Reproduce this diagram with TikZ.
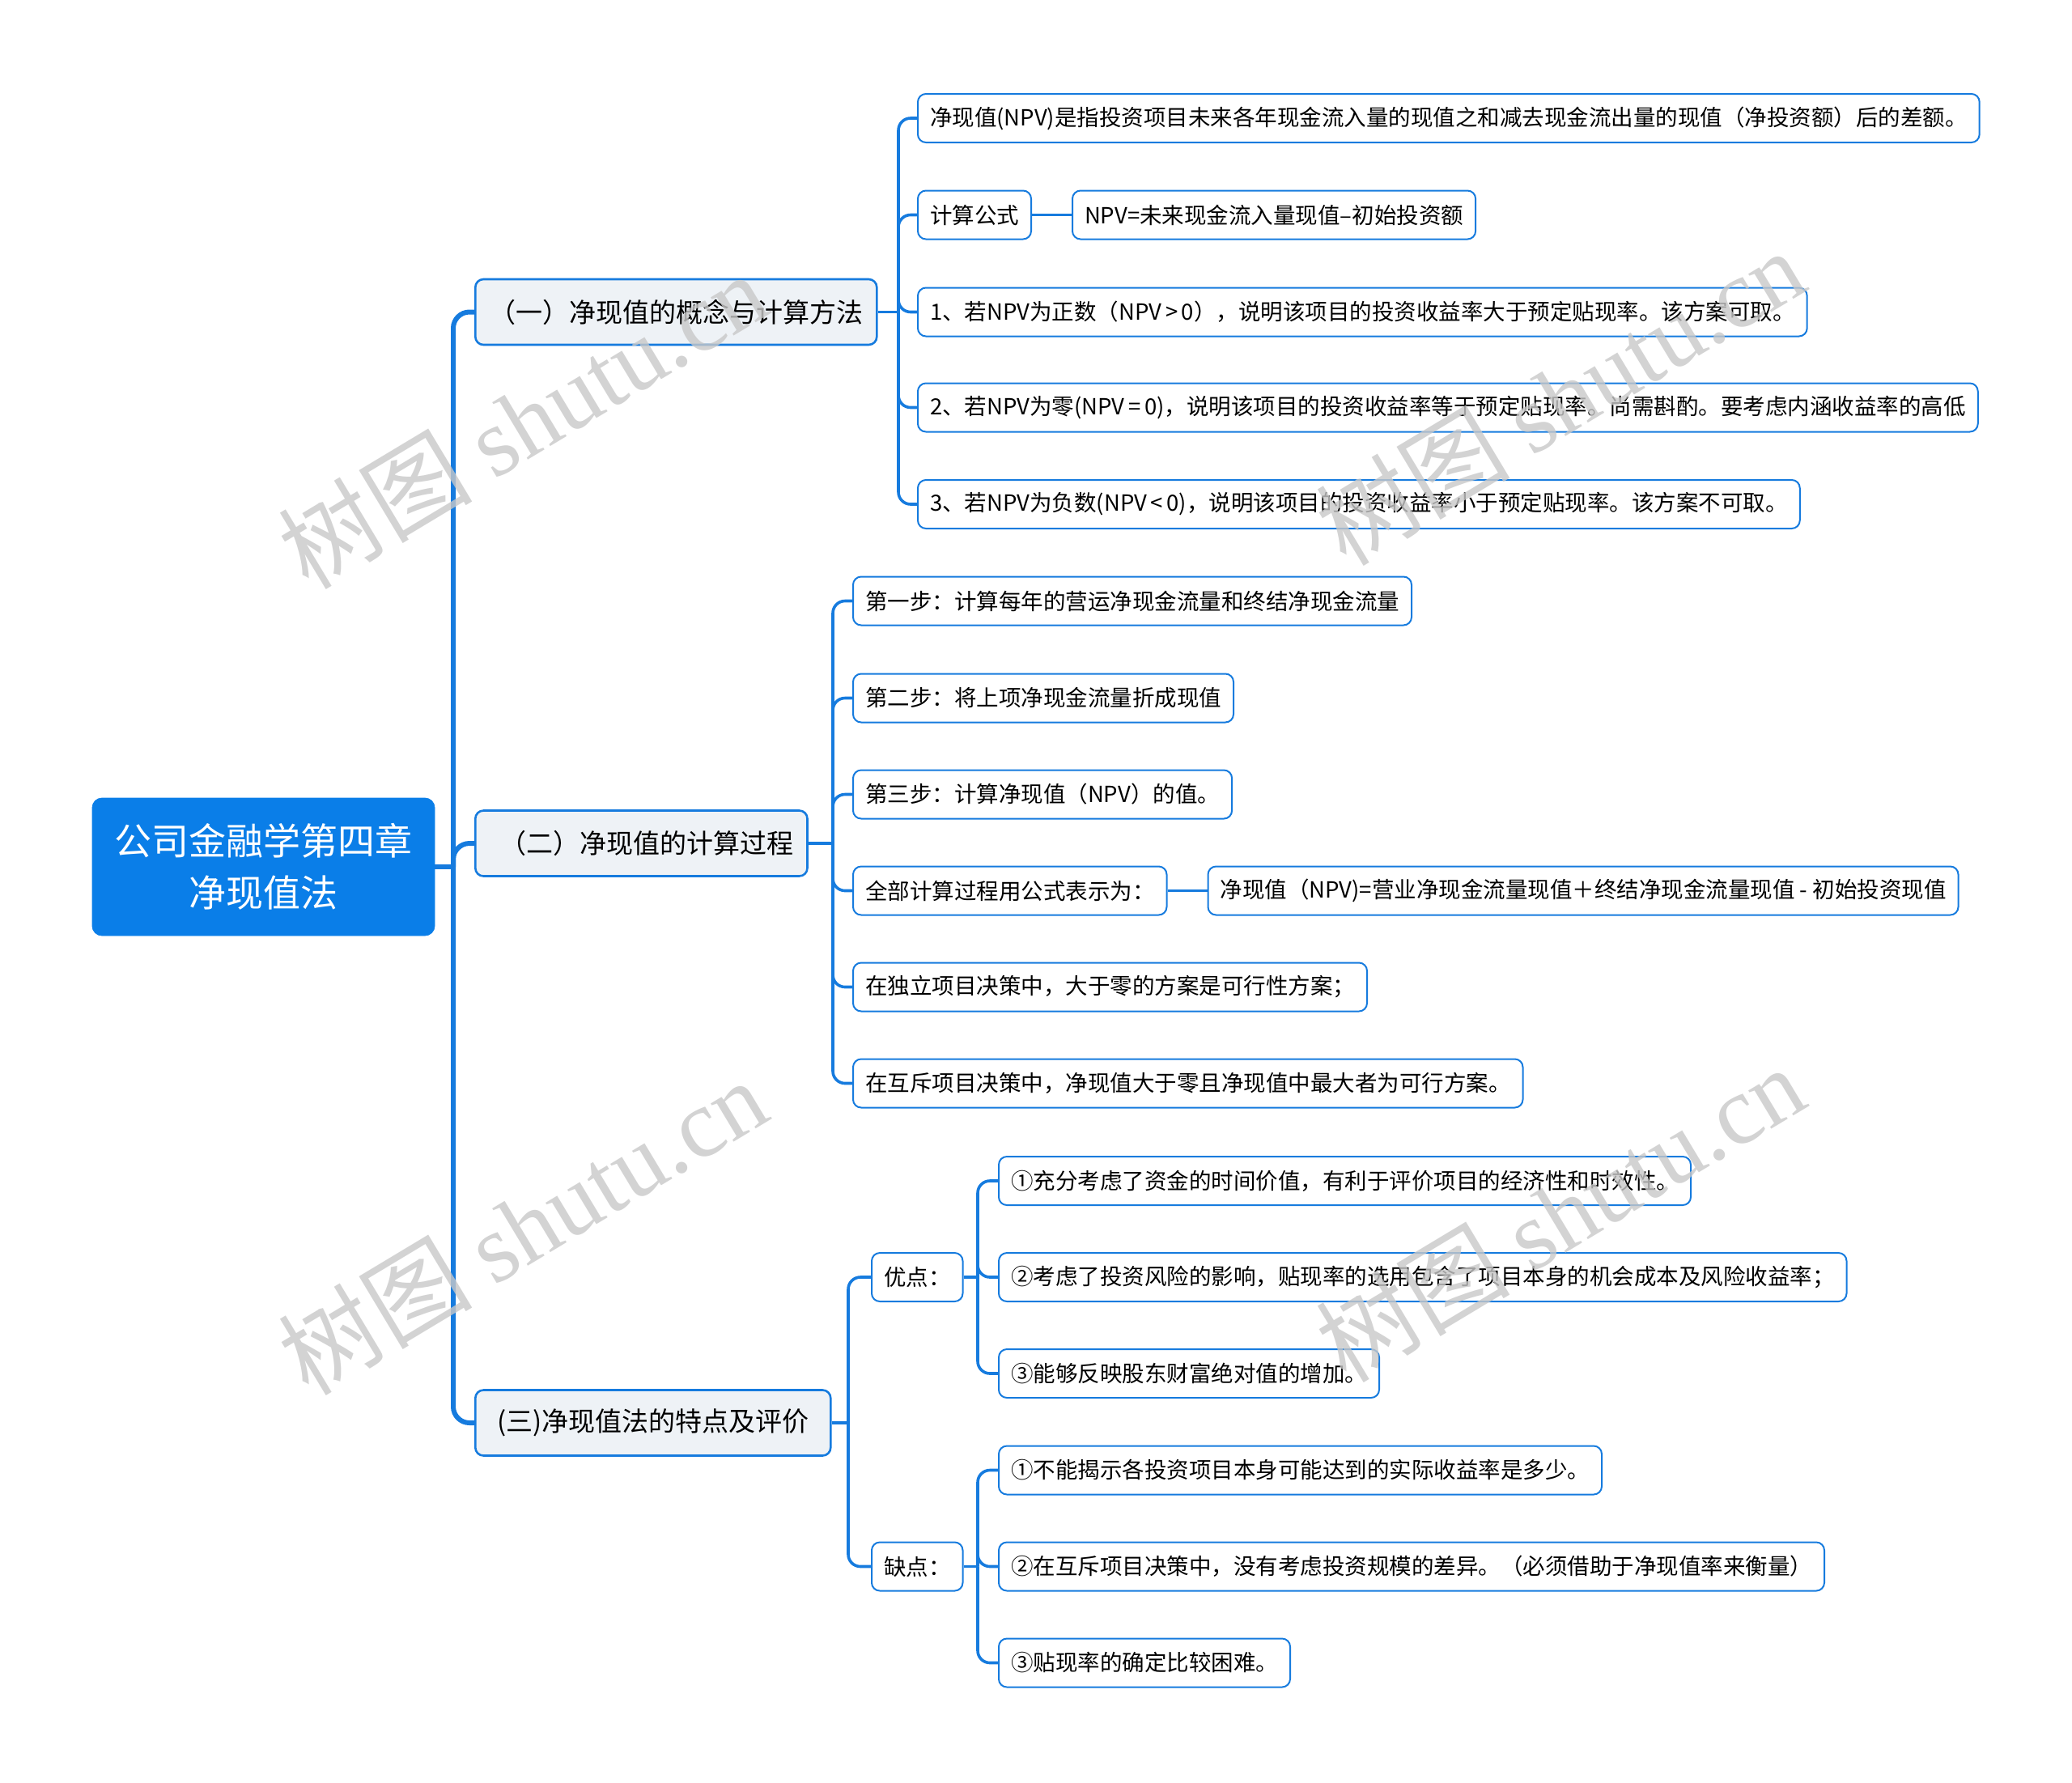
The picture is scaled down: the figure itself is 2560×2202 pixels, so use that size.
\documentclass[tikz,border=0pt]{standalone}
\usepackage{fontspec}
\setmainfont{Noto Sans CJK SC}
\newfontfamily\markfont{Liberation Serif}
\usetikzlibrary{positioning, calc}
\definecolor{mapblue}{RGB}{22,123,222}
\definecolor{rootblue}{RGB}{10,126,232}
\definecolor{topicbg}{RGB}{238,242,246}
\definecolor{markgray}{RGB}{200,200,200}
\tikzset{
  rootbox/.style={
    fill=rootblue,
    draw=rootblue,
    rounded corners=6pt,
    text=white,
    align=center,
    inner sep=4pt,
    minimum width=211.5pt,
    minimum height=85pt,
    font=\fontsize{23pt}{32pt}\selectfont
  },
  topicbox/.style={
    fill=topicbg,
    draw=mapblue,
    line width=1.3pt,
    rounded corners=5pt,
    anchor=west,
    inner xsep=8.5pt,
    minimum height=40.5pt,
    font=\fontsize{16.5pt}{20pt}\selectfont
  },
  leafbox/.style={
    fill=white,
    draw=mapblue,
    line width=1pt,
    rounded corners=5pt,
    anchor=west,
    inner xsep=7.5pt,
    minimum height=30pt,
    font=\fontsize{13.75pt}{16pt}\selectfont
  },
  trunk/.style={draw=mapblue, line width=3pt, rounded corners=10pt},
  stem/.style={draw=mapblue, line width=1.8pt, rounded corners=7.5pt},
  watermark/.style={text=markgray, text opacity=0.8, rotate=31,
    font=\fontsize{60pt}{60pt}\selectfont}
}

\begin{document}
\begin{tikzpicture}[x=0.5pt, y=-0.5pt]
\path[use as bounding box] (0,0) rectangle (2560,2202);

% root and topics
\node[rootbox] (root) at (325.5,1071) {公司金融学第四章\\净现值法};

\node[topicbox] (t1) at (586,385.5) {（一）净现值的概念与计算方法};
\node[topicbox] (t2) at (586,1042) {\hspace{0.4em}（二）净现值的计算过程};
\node[topicbox, minimum width=219.5pt] (t3) at (586,1758) {(三)净现值法的特点及评价\hspace{0.4em}};

% topic 1
\node[leafbox] (a1) at (1133,146) {净现值(NPV)是指投资项目未来各年现金流入量的现值之和减去现金流出量的现值（净投资额）后的差额。};
\node[leafbox] (a2) at (1133,265.5) {计算公式};
\node[leafbox, right=24.5pt of a2] (a2x) {NPV=未来现金流入量现值–初始投资额};
\node[leafbox] (a3) at (1133,385.5) {1、若NPV为正数（NPV\,>\,0），说明该项目的投资收益率大于预定贴现率。该方案可取。};
\node[leafbox] (a4) at (1133,503.5) {2、若NPV为零(NPV\,=\,0)，说明该项目的投资收益率等于预定贴现率。尚需斟酌。要考虑内涵收益率的高低};
\node[leafbox] (a5) at (1133,623) {3、若NPV为负数(NPV\,<\,0)，说明该项目的投资收益率小于预定贴现率。该方案不可取。};

% topic 2
\node[leafbox] (b1) at (1053,742.5) {第一步：计算每年的营运净现金流量和终结净现金流量};
\node[leafbox] (b2) at (1053,862.5) {第二步：将上项净现金流量折成现值};
\node[leafbox] (b3) at (1053,981.5) {第三步：计算净现值（NPV）的值。};
\node[leafbox] (b4) at (1053,1100.5) {全部计算过程用公式表示为：};
\node[leafbox, right=24.5pt of b4] (b4x) {净现值（NPV)=营业净现金流量现值＋终结净现金流量现值 - 初始投资现值};
\node[leafbox] (b5) at (1053,1219.5) {在独立项目决策中，大于零的方案是可行性方案；};
\node[leafbox] (b6) at (1053,1338.5) {在互斥项目决策中，净现值大于零且净现值中最大者为可行方案。};

% topic 3
\node[leafbox] (c1) at (1076,1578) {优点：};
\node[leafbox] (c2) at (1076,1935.5) {缺点：};
\node[leafbox] (c11) at (1233,1459) {①充分考虑了资金的时间价值，有利于评价项目的经济性和时效性。};
\node[leafbox] (c12) at (1233,1578) {②考虑了投资风险的影响，贴现率的选用包含了项目本身的机会成本及风险收益率；};
\node[leafbox] (c13) at (1233,1697) {③能够反映股东财富绝对值的增加。};
\node[leafbox] (c21) at (1233,1816.5) {①不能揭示各投资项目本身可能达到的实际收益率是多少。};
\node[leafbox] (c22) at (1233,1935.5) {②在互斥项目决策中，没有考虑投资规模的差异。（必须借助于净现值率来衡量）};
\node[leafbox] (c23) at (1233,2054.5) {③贴现率的确定比较困难。};

% junctions
\coordinate (rj) at (560,1071);
\coordinate (j1) at (1110,385.5);
\coordinate (j2) at (1029,1042);
\coordinate (j3) at (1048,1758);
\coordinate (j31) at (1208,1578);
\coordinate (j32) at (1208,1935.5);

% connectors
\draw[trunk] (root.east) -- (rj);
\foreach \n in {t1,t2,t3} \draw[trunk] (rj) |- (\n.west);

\draw[stem] (t1.east) -- (j1);
\foreach \n in {a1,a2,a3,a4,a5} \draw[stem] (j1) |- (\n.west);
\draw[stem] (a2.east) -- (a2x.west);

\draw[stem] (t2.east) -- (j2);
\foreach \n in {b1,b2,b3,b4,b5,b6} \draw[stem] (j2) |- (\n.west);
\draw[stem] (b4.east) -- (b4x.west);

\draw[stem] (t3.east) -- (j3);
\foreach \n in {c1,c2} \draw[stem] (j3) |- (\n.west);
\draw[stem] (c1.east) -- (j31);
\foreach \n in {c11,c12,c13} \draw[stem] (j31) |- (\n.west);
\draw[stem] (c2.east) -- (j32);
\foreach \n in {c21,c22,c23} \draw[stem] (j32) |- (\n.west);

% watermarks
\node[watermark] (wm1) at (645,519) {树图 {\markfont shutu.cn}};
\node[watermark] (wm2) at (1927,490) {树图 {\markfont shutu.cn}};
\node[watermark] (wm3) at (645,1515) {树图 {\markfont shutu.cn}};
\node[watermark] (wm4) at (1927,1499) {树图 {\markfont shutu.cn}};
\end{tikzpicture}
\end{document}
